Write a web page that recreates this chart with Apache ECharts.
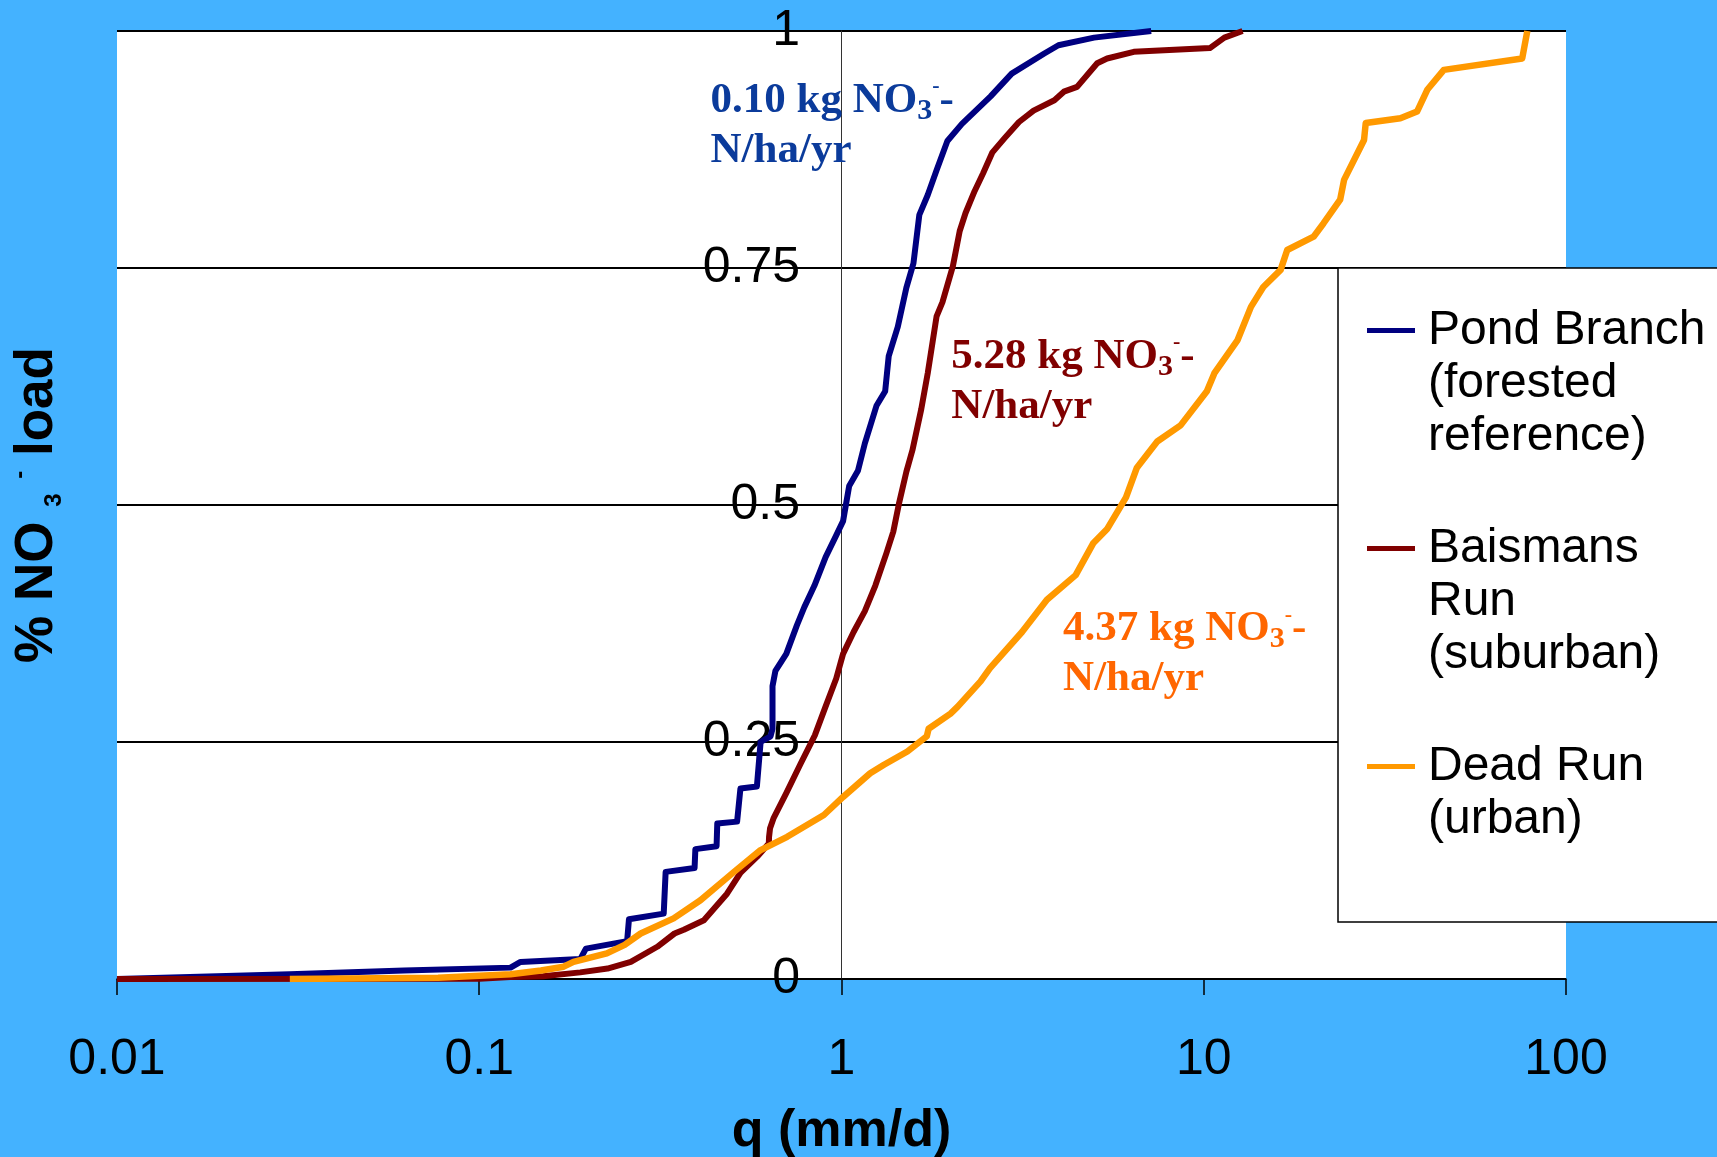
<!DOCTYPE html>
<html>
<head>
<meta charset="utf-8">
<script src="https://cdn.jsdelivr.net/npm/echarts/dist/echarts.min.js"></script>
<style>
  html, body { margin: 0; padding: 0; background: #44b2ff; }
  #main { width: 1717px; height: 1157px; }
</style>
</head>
<body>
<div id="main"></div>
<script>
// tick labels of the log axis
var xTickLabels = ['0.01', '0.1', '1', '10', '100'];

var seriesNames = ['Pond Branch\n(forested\nreference)', 'Baismans\nRun\n(suburban)', 'Dead Run\n(urban)'];
var seriesColors = ['#000080', '#800000', '#ff9900'];

// Pond Branch (forested reference)
var pondQ = [0.01, 0.03, 0.062, 0.122, 0.13, 0.19, 0.197, 0.256, 0.259, 0.323, 0.327, 0.393, 0.395, 0.452, 0.454,
  0.515, 0.526, 0.584, 0.598, 0.637, 0.645, 0.645, 0.657, 0.704, 0.753, 0.789, 0.842, 0.904, 0.967, 1.01, 1.05,
  1.11, 1.16, 1.25, 1.32, 1.35, 1.43, 1.51, 1.58, 1.64, 1.73, 1.83, 1.96, 2.15, 2.58, 2.95, 3.62, 3.97, 4.98, 7.16];
var pondLoad = [0, 0.005, 0.009, 0.012, 0.018, 0.021, 0.032, 0.040, 0.063, 0.069, 0.113, 0.117, 0.137, 0.140, 0.164,
  0.166, 0.201, 0.203, 0.250, 0.256, 0.264, 0.309, 0.325, 0.343, 0.373, 0.392, 0.415, 0.445, 0.468, 0.483, 0.520,
  0.536, 0.565, 0.605, 0.620, 0.657, 0.688, 0.729, 0.755, 0.806, 0.827, 0.853, 0.884, 0.902, 0.931, 0.955, 0.976, 0.985, 0.993, 1.0];

// Baismans Run (suburban)
var baisQ = [0.01, 0.1, 0.122, 0.15, 0.19, 0.226, 0.262, 0.31, 0.346, 0.367, 0.417, 0.483, 0.526, 0.585, 0.63, 0.631,
  0.635, 0.65, 0.704, 0.771, 0.844, 0.903, 0.967, 1.01, 1.08, 1.16, 1.24, 1.33, 1.39, 1.44, 1.51, 1.57, 1.66, 1.73,
  1.83, 1.9, 2.03, 2.12, 2.2, 2.33, 2.46, 2.61, 2.82, 3.09, 3.39, 3.87, 4.11, 4.47, 5.08, 5.41, 6.41, 10.4, 11.4, 12.8];
var baisLoad = [0, 0.0003, 0.002, 0.003, 0.007, 0.011, 0.018, 0.034, 0.048, 0.052, 0.062, 0.090, 0.112, 0.129, 0.143, 0.150,
  0.159, 0.170, 0.196, 0.227, 0.257, 0.287, 0.317, 0.343, 0.366, 0.388, 0.415, 0.449, 0.472, 0.501, 0.535, 0.558, 0.601, 0.639,
  0.699, 0.714, 0.752, 0.789, 0.808, 0.831, 0.850, 0.872, 0.887, 0.904, 0.916, 0.927, 0.936, 0.941, 0.966, 0.971, 0.978, 0.982, 0.993, 1.0];

// Dead Run (urban)
var deadQ = [0.03, 0.077, 0.122, 0.148, 0.171, 0.182, 0.225, 0.252, 0.279, 0.344, 0.408, 0.505, 0.598, 0.708, 0.894,
  1.01, 1.2, 1.31, 1.52, 1.72, 1.74, 2.0, 2.09, 2.42, 2.57, 3.15, 3.69, 4.43, 4.96, 5.42, 6.1, 6.53, 7.44, 8.63,
  10.2, 10.7, 12.4, 13.5, 14.6, 16.3, 17.0, 20.1, 21.4, 23.8, 24.4, 27.7, 28.0, 34.9, 38.8, 41.4, 46.0, 75.7, 78.2];
var deadLoad = [0, 0.0014, 0.005, 0.009, 0.013, 0.018, 0.027, 0.036, 0.048, 0.064, 0.083, 0.113, 0.136, 0.150, 0.173,
  0.192, 0.217, 0.226, 0.240, 0.256, 0.264, 0.280, 0.287, 0.314, 0.328, 0.366, 0.400, 0.426, 0.460, 0.475, 0.508, 0.539, 0.567, 0.584,
  0.620, 0.639, 0.674, 0.709, 0.730, 0.748, 0.769, 0.783, 0.797, 0.822, 0.843, 0.885, 0.903, 0.908, 0.915, 0.938, 0.959, 0.971, 1.0];

// load annotations (anchored in data space)
var annotText = ['0.10', '5.28', '4.37'];
var annotQ = [0.435, 2.01, 4.09];
var annotLoad = [0.9, 0.63, 0.343];
var annotColors = ['#0b3b9b', '#800000', '#ff6600'];

var sans = '"Liberation Sans", Arial, sans-serif';
var serif = '"Liberation Serif", "Times New Roman", serif';

function pairs(xs, ys) {
  return xs.map(function (x, i) { return [x, ys[i]]; });
}

function annot(i) {
  var c = annotColors[i];
  return {
    symbol: 'circle',
    symbolSize: 0,
    silent: true,
    data: [{ coord: [annotQ[i], annotLoad[i]] }],
    label: {
      show: true,
      position: 'right',
      distance: 0,
      formatter: '{m|' + annotText[i] + ' kg NO}{s|3}{p|-}{m|-}\n{m|N/ha/yr}',
      rich: {
        m: { fontFamily: serif, fontWeight: 'bold', fontSize: 43, lineHeight: 50, color: c },
        s: { fontFamily: serif, fontWeight: 'bold', fontSize: 30, lineHeight: 26, verticalAlign: 'bottom', color: c },
        p: { fontFamily: serif, fontWeight: 'bold', fontSize: 22, lineHeight: 36, verticalAlign: 'top', color: c }
      }
    }
  };
}

// icon sits on the first text line: pad the name with empty lines above
function legendFor(i, top) {
  return {
    data: [seriesNames[i]],
    left: 1367,
    top: top,
    orient: 'vertical',
    padding: 0,
    icon: 'rect',
    itemWidth: 48,
    itemHeight: 5,
    selectedMode: false,
    itemStyle: { borderWidth: 0 },
    formatter: function (name) {
      var n = name.split('\n').length;
      return new Array(n).join('\n') + name;
    },
    textStyle: { fontFamily: sans, fontSize: 48, lineHeight: 53, color: '#000', padding: [0, 0, 0, 8] }
  };
}

var allData = [pairs(pondQ, pondLoad), pairs(baisQ, baisLoad), pairs(deadQ, deadLoad)];
var widths = [6, 6, 6.5];

var chart = echarts.init(document.getElementById('main'));
var option = {
  animation: false,
  backgroundColor: '#44b2ff',
  grid: {
    left: 117, right: 151, top: 31, bottom: 178,
    show: true, backgroundColor: '#ffffff', borderWidth: 0,
    outerBoundsMode: 'none'
  },
  graphic: [{
    type: 'rect',
    silent: true,
    z: 1,
    shape: { x: 1338, y: 268, width: 420, height: 654 },
    style: { fill: '#ffffff', stroke: '#000000', lineWidth: 1.5 }
  }],
  legend: [legendFor(0, 198), legendFor(1, 416), legendFor(2, 687)],
  xAxis: {
    type: 'log',
    logBase: 10,
    min: 0.01,
    max: 100,
    axisLine: { show: true, onZero: false, lineStyle: { color: '#000', width: 1.5 } },
    axisTick: { show: true, length: 16, lineStyle: { color: '#000', width: 1.5 } },
    minorTick: { show: false },
    splitLine: { show: false },
    axisLabel: {
      fontFamily: sans, fontSize: 50, color: '#000', margin: 56,
      formatter: function (v) { return xTickLabels[Math.round(Math.log10(v)) + 2]; }
    },
    name: 'q (mm/d)',
    nameLocation: 'middle',
    nameGap: 127,
    nameTextStyle: { fontFamily: sans, fontSize: 52, fontWeight: 'bold', color: '#000' }
  },
  yAxis: {
    type: 'value',
    min: 0,
    max: 1,
    interval: 0.25,
    position: 'left',
    offset: -724,
    axisLine: { show: true, onZero: false, lineStyle: { color: '#333', width: 1 } },
    axisTick: { show: false },
    splitLine: { show: true, lineStyle: { color: '#000', width: 2 } },
    axisLabel: { fontFamily: sans, fontSize: 50, color: '#000', margin: 41 },
    name: '{m|% NO }{s|3}{m| }{p|-}{m| load}',
    nameLocation: 'middle',
    nameRotate: 90,
    nameGap: 775,
    nameTextStyle: {
      fontFamily: sans, fontSize: 53, fontWeight: 'bold', color: '#000', lineHeight: 58,
      rich: {
        m: { fontFamily: sans, fontSize: 53, fontWeight: 'bold', lineHeight: 58, color: '#000' },
        s: { fontFamily: sans, fontSize: 24, fontWeight: 'bold', lineHeight: 36, verticalAlign: 'bottom', color: '#000' },
        p: { fontFamily: sans, fontSize: 24, fontWeight: 'bold', lineHeight: 12, verticalAlign: 'top', color: '#000' }
      }
    }
  },
  series: allData.map(function (d, i) {
    return {
      name: seriesNames[i],
      type: 'line',
      data: d,
      symbol: 'none',
      showSymbol: false,
      z: 2 + i,
      color: seriesColors[i],
      lineStyle: { color: seriesColors[i], width: widths[i], join: 'round' },
      markPoint: annot(i)
    };
  })
};
chart.setOption(option);
</script>
</body>
</html>
